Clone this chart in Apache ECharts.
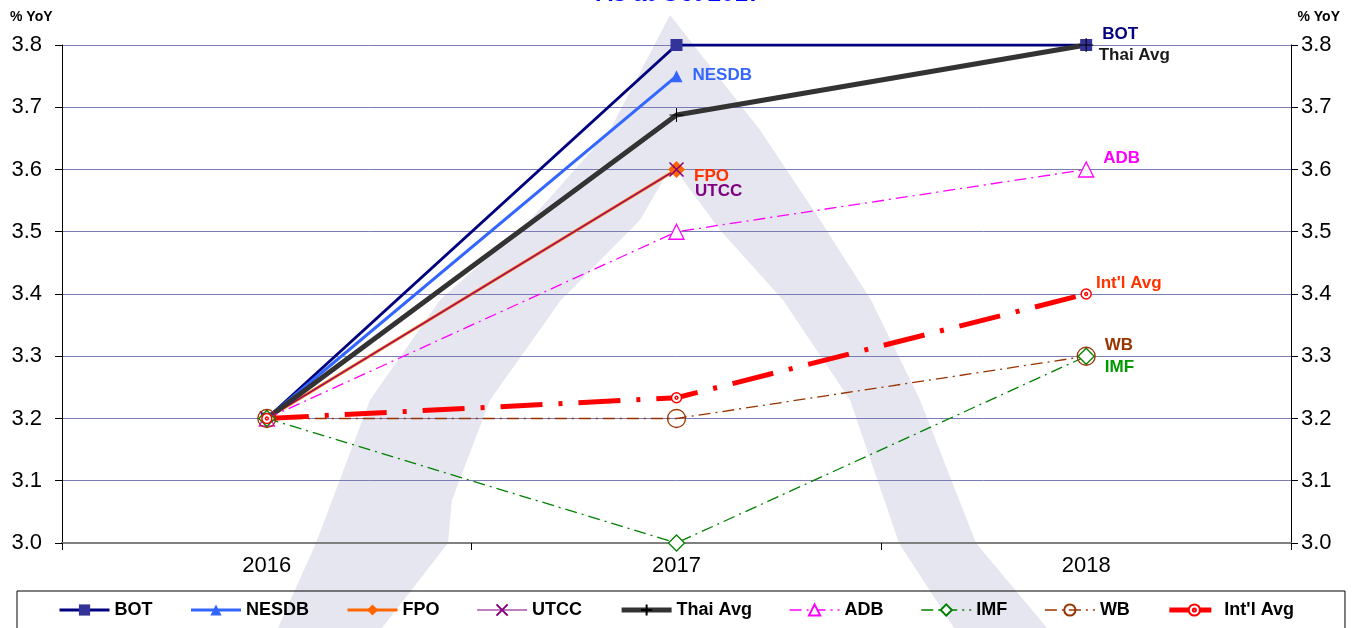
<!DOCTYPE html>
<html>
<head>
<meta charset="utf-8">
<script src="https://cdn.jsdelivr.net/npm/echarts@6/dist/echarts.min.js"></script>
<style>
  html, body { margin: 0; padding: 0; background: #fff; }
  #chart { width: 1357px; height: 628px; }
</style>
</head>
<body>
<div id="chart"></div>
<script>
// data
var years = ['2016', '2017', '2018'];
var bot = [3.2, 3.8, 3.8];
var nesdb = [3.2, 3.75, null];
var fpo = [3.2, 3.6, null];
var utcc = [3.2, 3.6, null];
var thaiAvg = [3.2, 3.6875, 3.8];
var adb = [3.2, 3.5, 3.6];
var imf = [3.2, 3.0, 3.3];
var wb = [3.2, 3.2, 3.3];
var intlAvg = [3.2, 3.2333, 3.4];

var font = 'Liberation Sans, Arial, sans-serif';
var crossPath = 'path://M0,0L10,10M10,0L0,10';
var plusPath = 'path://M5,0L5,10M0,5L10,5';
var ringPath = 'path://M0,5A5,5 0 1,0 10,5A5,5 0 1,0 0,5ZM3.6,5A1.4,1.4 0 1,0 6.4,5A1.4,1.4 0 1,0 3.6,5Z';

// put a name label on one point of a series
function withLabel(arr, idx, name, color, off) {
  return arr.map(function (v, i) {
    if (i !== idx) return v;
    return {
      value: v,
      label: {
        show: true, position: 'right', offset: off,
        formatter: name, color: color,
        fontFamily: font, fontWeight: 'bold', fontSize: 17
      }
    };
  });
}

var axisLbl = { color: '#000', fontFamily: font, fontSize: 22,
                formatter: function (v) { return v.toFixed(1); } };

var chart = echarts.init(document.getElementById('chart'));

var option = {
  backgroundColor: '#fff',
  animation: false,
  title: {
    text: 'As at Oct 2017',
    left: 'center',
    top: -23,
    textStyle: { color: '#0000ff', fontFamily: font, fontWeight: 'bold', fontSize: 24 }
  },
  graphic: [
    // light "A" watermark behind the plot
    {
      type: 'polygon', z: -10, silent: true,
      shape: { points: [[670, 15], [610, 130], [530, 220], [440, 300], [370, 400], [316, 543], [278, 628],
                        [1047, 628], [976, 543], [920, 400], [871, 300], [820, 220], [760, 130]] },
      style: { fill: '#e6e6f1' }
    },
    {
      type: 'polygon', z: -9, silent: true,
      shape: { points: [[672, 165], [640, 220], [561, 300], [490, 400], [452, 500], [448, 543], [382, 628],
                        [954, 628], [899, 543], [850, 400], [783, 300], [720, 230]] },
      style: { fill: '#ffffff' }
    },
    {
      type: 'text', left: 10, top: 10,
      style: { text: '% YoY', fill: '#000', font: 'bold 14px ' + font }
    },
    {
      type: 'text', right: 17, top: 10,
      style: { text: '% YoY', fill: '#000', font: 'bold 14px ' + font }
    }
  ],
  legend: {
    left: 17,
    top: 591,
    padding: [10, 51, 20, 41],
    borderColor: '#000',
    borderWidth: 1,
    itemWidth: 50,
    itemHeight: 14,
    itemGap: 37,
    lineStyle: { width: 'inherit' },
    textStyle: { fontFamily: font, fontWeight: 'bold', fontSize: 18, color: '#000' }
  },
  grid: { left: 62, right: 66, top: 45, bottom: 85 },
  xAxis: {
    type: 'category',
    data: years,
    boundaryGap: true,
    axisLine: { lineStyle: { color: '#808080', width: 2 } },
    axisTick: { show: true, length: 7, lineStyle: { color: '#000' } },
    axisLabel: { color: '#000', fontFamily: font, fontSize: 22, margin: 12 }
  },
  yAxis: [
    {
      type: 'value', min: 3.0, max: 3.8, interval: 0.1, position: 'left',
      axisLine: { show: true, lineStyle: { color: '#000' } },
      axisTick: { show: true, length: 7, lineStyle: { color: '#000' } },
      axisLabel: Object.assign({ margin: 20 }, axisLbl),
      splitLine: { show: true, lineStyle: { color: '#7b7bb5', width: 1 } }
    },
    {
      type: 'value', min: 3.0, max: 3.8, interval: 0.1, position: 'right',
      axisLine: { show: true, lineStyle: { color: '#000' } },
      axisTick: { show: true, length: 7, lineStyle: { color: '#000' } },
      axisLabel: Object.assign({ margin: 10 }, axisLbl),
      splitLine: { show: false }
    }
  ],
  series: [
    {
      name: 'BOT', type: 'line', data: withLabel(bot, 2, 'BOT', '#000080', [5, -11]),
      symbol: 'rect', symbolSize: 12,
      lineStyle: { color: '#000080', width: 3 },
      itemStyle: { color: '#333399' }
    },
    {
      name: 'NESDB', type: 'line', data: withLabel(nesdb, 1, 'NESDB', '#3366ff', [5, -1]),
      symbol: 'triangle', symbolSize: 12,
      lineStyle: { color: '#3366ff', width: 3 },
      itemStyle: { color: '#3366ff' }
    },
    {
      name: 'FPO', type: 'line', data: withLabel(fpo, 1, 'FPO', '#ff3300', [4, 7]),
      symbol: 'diamond', symbolSize: 17,
      lineStyle: { color: '#ff6600', width: 3 },
      itemStyle: { color: '#ff6600' }
    },
    {
      name: 'UTCC', type: 'line', data: withLabel(utcc, 1, 'UTCC', '#800080', [4, 22]),
      symbol: crossPath, symbolSize: 14,
      lineStyle: { color: '#800080', width: 1.2 },
      itemStyle: { color: 'none', borderColor: '#800080', borderWidth: 1.5 }
    },
    {
      name: 'Thai Avg', type: 'line', data: withLabel(thaiAvg, 2, 'Thai Avg', '#1a1a1a', [-2, 10]),
      symbol: plusPath, symbolSize: 14,
      lineStyle: { color: '#333333', width: 5 },
      itemStyle: { color: 'none', borderColor: '#000', borderWidth: 1 }
    },
    {
      name: 'ADB', type: 'line', data: withLabel(adb, 2, 'ADB', '#ff00ff', [4, -11]),
      symbol: 'triangle', symbolSize: 15,
      lineStyle: { color: '#ff00ff', width: 1.3, type: [12, 5, 2, 5] },
      itemStyle: { color: '#fff', borderColor: '#ff00ff', borderWidth: 1.3 }
    },
    {
      name: 'IMF', type: 'line', data: withLabel(imf, 2, 'IMF', '#009900', [5, 11]),
      symbol: 'diamond', symbolSize: 16,
      lineStyle: { color: '#008000', width: 1.3, type: [12, 5, 2, 5] },
      itemStyle: { color: '#fff', borderColor: '#008000', borderWidth: 1.3 }
    },
    {
      name: 'WB', type: 'line', data: withLabel(wb, 2, 'WB', '#993300', [4, -11]),
      symbol: 'circle', symbolSize: 18,
      lineStyle: { color: '#993300', width: 1.3, type: [12, 5, 2, 5] },
      itemStyle: { color: 'rgba(255,255,255,0)', borderColor: '#993300', borderWidth: 1.3 }
    },
    {
      name: "Int'l Avg", type: 'line', data: withLabel(intlAvg, 2, "Int'l Avg", '#ff3300', [-1, -11]),
      symbol: ringPath, symbolSize: 10,
      lineStyle: { color: '#ff0000', width: 5, type: [42, 16, 4, 16] },
      itemStyle: { color: '#fff', borderColor: '#ff0000', borderWidth: 1.5 }
    }
  ]
};

chart.setOption(option);
</script>
</body>
</html>
